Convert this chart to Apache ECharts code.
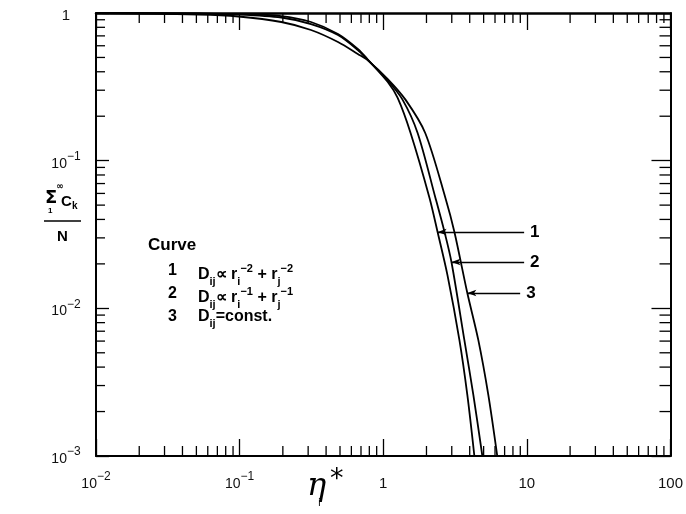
<!DOCTYPE html>
<html>
<head>
<meta charset="utf-8">
<script src="https://cdn.jsdelivr.net/npm/echarts@6/dist/echarts.min.js"></script>
<style>
  html, body { margin: 0; padding: 0; background: #fff; }
  #chart { width: 686px; height: 514px; }
</style>
</head>
<body>
<div id="chart"></div>
<script>
// Fraction of clusters remaining vs. reduced time, three diffusion laws.
const curve1 = [[0.01,1],[0.052,0.992],[0.098,0.984],[0.195,0.954],[0.314,0.869],[0.484,0.721],[0.665,0.571],[0.781,0.484],[1.075,0.341],[1.26,0.266],[1.55,0.154],[2.10,0.0559],[2.39,0.0329],[2.80,0.0168],[3.39,0.00611],[3.85,0.00259],[4.31,0.001]];
const curve2 = [[0.01,1],[0.052,0.989],[0.098,0.977],[0.195,0.932],[0.314,0.842],[0.484,0.710],[0.665,0.562],[0.781,0.481],[1.075,0.349],[1.365,0.258],[1.735,0.154],[2.31,0.0559],[2.67,0.0329],[2.985,0.0206],[3.67,0.00611],[4.24,0.00259],[4.90,0.001]];
const curve3 = [[0.01,1],[0.052,0.977],[0.098,0.947],[0.195,0.869],[0.314,0.767],[0.484,0.636],[0.665,0.528],[0.781,0.478],[1.075,0.357],[1.432,0.258],[1.96,0.154],[2.71,0.0559],[3.13,0.0329],[3.85,0.0127],[4.59,0.00611],[5.39,0.00259],[6.22,0.001]];

// Leader lines pointing at each curve, with their curve numbers
const curveNames = ['1', '2', '3'];
const leaderY = [0.0329, 0.0206, 0.0127];
const leaderStartX = [2.39, 2.985, 3.85];
const leaderEndX = [9.57, 9.57, 8.98];

// Axis ranges (decades)
const xDecades = [0.01, 0.1, 1, 10];
const yDecades = [0.001, 0.01, 0.1];
const minorSteps = [2, 3, 4, 5, 6, 7, 8, 9];

const minorX = [];
xDecades.forEach(d => minorSteps.forEach(m => minorX.push([+(d * m).toPrecision(3), 1])));
const minorY = [];
yDecades.forEach(d => minorSteps.forEach(m => minorY.push([1, +(d * m).toPrecision(3)])));

const chart = echarts.init(document.getElementById('chart'), null, { renderer: 'canvas' });

const labelFont = 'Liberation Sans';
const boldFont = 'Liberation Sans';

function powerLabel(v) {
  const e = Math.round(Math.log10(v));
  if (e === 0) return '{p|1}';
  if (e === 1) return '{p|10}';
  if (e === 2) return '{p|100}';
  return '{b|10}{s|' + (e < 0 ? '\u2212' + (-e) : e) + '}';
}
const labelRich = {
  p: { fontSize: 15, fontFamily: labelFont, color: '#111', lineHeight: 20, verticalAlign: 'bottom' },
  b: { fontSize: 14, fontFamily: labelFont, color: '#111', lineHeight: 20, verticalAlign: 'bottom' },
  s: { fontSize: 12, fontFamily: labelFont, color: '#111', lineHeight: 12, verticalAlign: 'top' }
};

const axisLineStyle = { color: '#000', width: 2 };

function tickSeries(data, isX) {
  return {
    type: 'custom',
    coordinateSystem: 'cartesian2d',
    xAxisIndex: 0, yAxisIndex: 0,
    silent: true,
    animation: false,
    z: 5,
    data: data,
    renderItem: function (params, api) {
      const cs = params.coordSys;
      const p = api.coord([api.value(0), api.value(1)]);
      const st = { stroke: '#000', lineWidth: 1.3 };
      if (isX) {
        const yb = cs.y + cs.height, yt = cs.y;
        return { type: 'group', children: [
          { type: 'line', shape: { x1: p[0], y1: yb, x2: p[0], y2: yb - 10 }, style: st },
          { type: 'line', shape: { x1: p[0], y1: yt, x2: p[0], y2: yt + 10 }, style: st }
        ] };
      }
      const xl = cs.x, xr = cs.x + cs.width;
      return { type: 'group', children: [
        { type: 'line', shape: { x1: xl, y1: p[1], x2: xl + 9, y2: p[1] }, style: st },
        { type: 'line', shape: { x1: xr, y1: p[1], x2: xr - 11, y2: p[1] }, style: st }
      ] };
    }
  };
}

function curveSeries(data, idx) {
  return {
    type: 'line',
    data: data,
    smooth: 0.3,
    symbol: 'none',
    clip: true,
    lineStyle: { color: '#000', width: 1.8 },
    animation: false,
    markLine: {
      silent: true,
      symbol: ['arrow', 'none'],
      symbolSize: [5, 9],
      lineStyle: { color: '#000', width: 1.3, type: 'solid' },
      label: {
        show: true,
        position: 'end',
        formatter: curveNames[idx],
        fontFamily: boldFont,
        fontWeight: 'bold',
        fontSize: 17,
        color: '#000',
        distance: 6
      },
      data: [[
        { coord: [leaderStartX[idx], leaderY[idx]] },
        { coord: [leaderEndX[idx], leaderY[idx]] }
      ]]
    }
  };
}

const sub = { fontSize: 11, fontFamily: boldFont, fontWeight: 'bold', color: '#000', lineHeight: 11, verticalAlign: 'bottom' };
const sup = { fontSize: 11, fontFamily: boldFont, fontWeight: 'bold', color: '#000', lineHeight: 11, verticalAlign: 'top' };
const base = { fontSize: 16, fontFamily: boldFont, fontWeight: 'bold', color: '#000', lineHeight: 24, verticalAlign: 'middle' };
const richLegend = { n: base, sb: sub, sp: sup };

function txt(left, top, text, style) {
  return { type: 'text', left: left, top: top, silent: true,
    style: Object.assign({ text: text, fill: '#000' }, style) };
}

const option = {
  backgroundColor: '#fff',
  animation: false,
  grid: { left: 96, right: 12, top: 13, bottom: 58, containLabel: false },
  xAxis: [
    {
      type: 'log', logBase: 10, min: 0.01, max: 100, position: 'bottom',
      splitNumber: 4,
      axisLine: { show: true, lineStyle: axisLineStyle },
      axisTick: { show: true, inside: true, length: 17, lineStyle: { color: '#000', width: 1.3 } },
      axisLabel: { show: true, margin: 15, formatter: powerLabel, rich: labelRich },
      splitLine: { show: false }, minorTick: { show: false }
    },
    {
      type: 'log', logBase: 10, min: 0.01, max: 100, position: 'top',
      splitNumber: 4,
      axisLine: { show: true, lineStyle: { color: '#000', width: 2.5 } },
      axisTick: { show: true, inside: true, length: 17, lineStyle: { color: '#000', width: 1.3 } },
      axisLabel: { show: false }, splitLine: { show: false }
    }
  ],
  yAxis: [
    {
      type: 'log', logBase: 10, min: 0.001, max: 1, position: 'left',
      splitNumber: 3,
      axisLine: { show: true, lineStyle: axisLineStyle },
      axisTick: { show: true, inside: true, length: 13, lineStyle: { color: '#000', width: 1.3 } },
      axisLabel: { show: true, margin: 30, align: 'center', formatter: powerLabel, rich: labelRich },
      splitLine: { show: false }
    },
    {
      type: 'log', logBase: 10, min: 0.001, max: 1, position: 'right',
      splitNumber: 3,
      axisLine: { show: true, lineStyle: axisLineStyle },
      axisTick: { show: true, inside: true, length: 19, lineStyle: { color: '#000', width: 1.3 } },
      axisLabel: { show: false }, splitLine: { show: false }
    }
  ],
  series: [
    curveSeries(curve1, 0),
    curveSeries(curve2, 1),
    curveSeries(curve3, 2),
    tickSeries(minorX, true),
    tickSeries(minorY, false)
  ],
  graphic: [
    // key of curve definitions
    txt(148, 237, 'Curve', { fontSize: 17, fontFamily: boldFont, fontWeight: 'bold' }),
    txt(168, 263, '{n|1}', { rich: richLegend }),
    txt(198, 263, '{n|D}{sb|ij}{n|\u221D r}{sb|i}{sp|\u22122}{n| + r}{sb|j}{sp|\u22122}', { rich: richLegend }),
    txt(168, 286, '{n|2}', { rich: richLegend }),
    txt(198, 286, '{n|D}{sb|ij}{n|\u221D r}{sb|i}{sp|\u22121}{n| + r}{sb|j}{sp|\u22121}', { rich: richLegend }),
    txt(168, 309, '{n|3}', { rich: richLegend }),
    txt(198, 309, '{n|D}{sb|ij}{n|=const.}', { rich: richLegend }),
    // y axis title: sum of C_k over N
    txt(45, 189, '\u03A3', { fontSize: 18, fontFamily: 'DejaVu Sans', fontWeight: 'bold' }),
    txt(56, 182, '\u221E', { fontSize: 9, fontFamily: 'DejaVu Sans', fontWeight: 'bold' }),
    txt(48, 207, '1', { fontSize: 8, fontFamily: boldFont, fontWeight: 'bold' }),
    txt(61, 194, 'C', { fontSize: 15, fontFamily: boldFont, fontWeight: 'bold' }),
    txt(72, 201, 'k', { fontSize: 10, fontFamily: boldFont, fontWeight: 'bold' }),
    { type: 'line', silent: true, shape: { x1: 44, y1: 221, x2: 81, y2: 221 }, style: { stroke: '#000', lineWidth: 1.5 } },
    txt(57, 229, 'N', { fontSize: 15, fontFamily: boldFont, fontWeight: 'bold' }),
    // x axis title: eta_i*
    txt(307, 471, '\u03B7', { fontSize: 32, fontFamily: 'DejaVu Serif', fontStyle: 'italic' }),
    txt(330, 466, '*', { fontSize: 27, fontFamily: 'DejaVu Sans' }),
    txt(318, 498, 'i', { fontSize: 10, fontFamily: 'DejaVu Sans' })
  ]
};

chart.setOption(option);
</script>
</body>
</html>
